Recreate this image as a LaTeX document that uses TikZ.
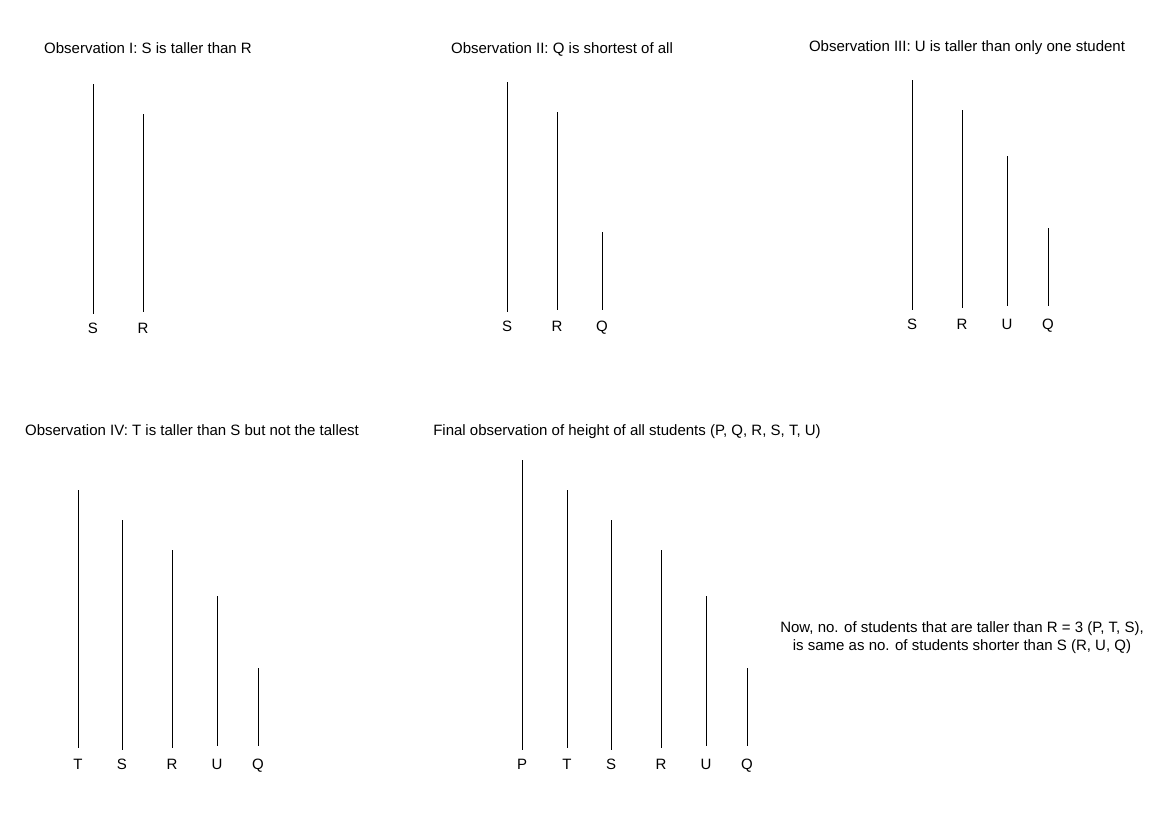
\documentclass[tikz,border=0pt]{standalone}
\usepackage{fontspec}
\setmainfont{Liberation Sans}
\begin{document}
\begin{tikzpicture}[x=1pt,y=-1pt,
  txt/.style={font=\fontsize{15}{18}\selectfont, inner sep=0pt, anchor=base},
  lbl/.style={font=\fontsize{15}{18}\selectfont, inner sep=0pt, anchor=base},
  hbar/.style={draw=black, line width=1pt}]
\useasboundingbox (0,0) rectangle (1169,827);
% Titles
\node[txt] (t1) at (148,53.5) {Observation I: S is taller than R};
\node[txt] (t2) at (562,53.5) {Observation II: Q is shortest of all};
\node[txt] (t3) at (967,51.5) {Observation III: U is taller than only one student};
\node[txt] (t4) at (192,435.5) {Observation IV: T is taller than S but not the tallest};
\node[txt] (t5) at (627,435.5) {Final observation of height of all students (P, Q, R, S, T, U)};
\node[txt, align=center] (note) at (962,650.5) {Now, no. of students that are taller than R = 3 (P, T, S),\\is same as no. of students shorter than S (R, U, Q)};
% bars: name, x, ytop, ybottom, label baseline y, label
\foreach \n/\x/\a/\b/\ly/\l in {
  aS/93/84/314/333.5/S, aR/143/114/312/333.5/R,
  bS/507/82/312/331.5/S, bR/557/112/310/331.5/R, bQ/602/232/310/331.5/Q,
  cS/912/80/310/329.5/S, cR/962/110/308/329.5/R, cU/1007/156/306/329.5/U, cQ/1048/228/306/329.5/Q,
  dT/78/490/748/769.5/T, dS/122/520/750/769.5/S, dR/172/550/748/769.5/R, dU/217/596/746/769.5/U, dQ/258/668/746/769.5/Q,
  eP/522/460/750/769.5/P, eT/567/490/748/769.5/T, eS/611/520/750/769.5/S, eR/661/550/748/769.5/R, eU/706/596/746/769.5/U, eQ/747/668/746/769.5/Q}
{
  \coordinate (\n top) at (\x,\a);
  \coordinate (\n bot) at (\x,\b);
  \draw[hbar] (\n top) -- (\n bot);
  \node[lbl] (\n lab) at (\x,\ly) {\l};
}
\end{tikzpicture}
\end{document}
